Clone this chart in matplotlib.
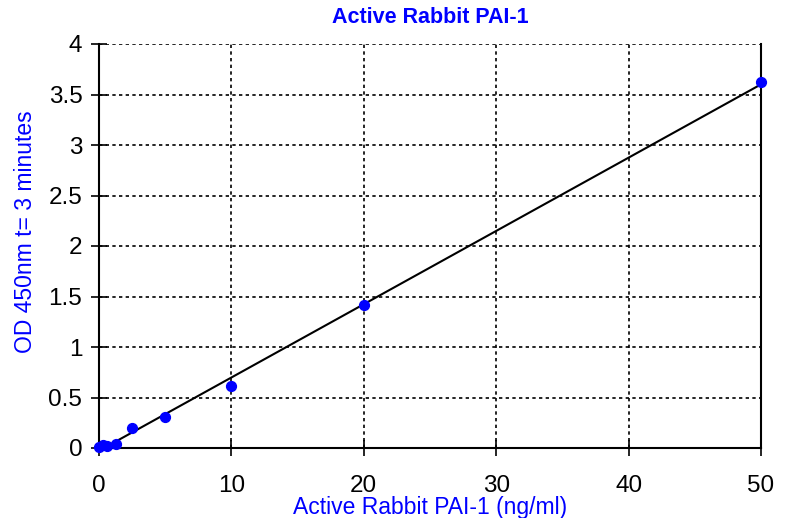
import matplotlib
matplotlib.use("Agg")
import matplotlib.pyplot as plt
import numpy as np

plt.rcParams['font.family'] = ['Liberation Sans', 'DejaVu Sans']

conc = [0, 0.3125, 0.625, 1.25, 2.5, 5, 10, 20, 50]
od = [0.01, 0.03, 0.02, 0.04, 0.20, 0.31, 0.61, 1.42, 3.62]
x_ticks = [0, 10, 20, 30, 40, 50]
y_ticks = [0, 0.5, 1, 1.5, 2, 2.5, 3, 3.5, 4]
y_tick_labels = ['0', '0.5', '1', '1.5', '2', '2.5', '3', '3.5', '4']

fig = plt.figure(figsize=(7.93, 5.18), dpi=100)
ax = fig.add_axes([99/793, 1-448/518, (761-99)/793, (448-44)/518])

slope, intercept = np.polyfit(conc, od, 1)
xs = np.array([0, 50])
ax.plot(xs, slope*xs + intercept, color='black', lw=1.5, zorder=3)
ax.scatter(conc, od, s=50, color='#0000ff', zorder=4, clip_on=False)

ax.set_xlim(0, 50)
ax.set_ylim(0, 4)
ax.set_xticks(x_ticks)
ax.set_yticks(y_ticks)
ax.set_yticklabels(y_tick_labels)
ax.grid(True, color='black', linestyle=(0, (2, 2)), lw=1.2)
ax.tick_params(direction='inout', length=12, width=1.2, labelsize=17.5)
ax.tick_params(axis='x', pad=13.5)
ax.tick_params(axis='y', pad=6)
for s in ['left', 'bottom', 'right']:
    ax.spines[s].set_linewidth(1.5)
ax.spines['top'].set_visible(False)

ax.set_title('Active Rabbit PAI-1', color='#0000ff', fontweight='bold', fontsize=15.5, pad=15)
ax.set_xlabel('Active Rabbit PAI-1 (ng/ml)', color='#0000ff', fontsize=16.5, labelpad=-1)
ax.set_ylabel('OD 450nm t= 3 minutes', color='#0000ff', fontsize=16.5)
ax.yaxis.set_label_coords(-62/662, 0.5 + 14/404)

fig.savefig('out.png', dpi=100)
